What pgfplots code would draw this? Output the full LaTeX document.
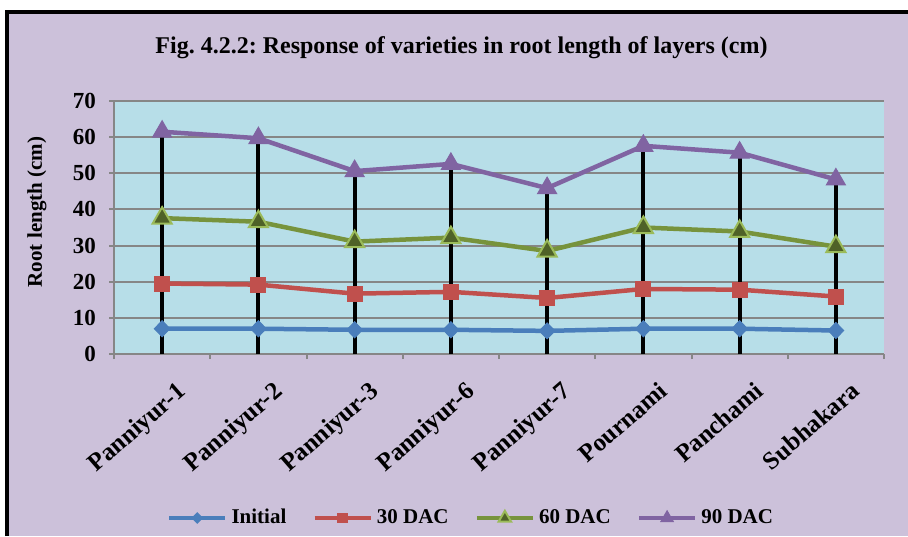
\documentclass[border=0pt]{standalone}
\usepackage{fontspec}
\setmainfont{Liberation Serif}
\usepackage{pgfplots}
\pgfplotsset{compat=1.18}
\definecolor{bgl}{HTML}{CCC1DA}
\definecolor{plotbg}{HTML}{B7DEE8}
\definecolor{gridc}{HTML}{868686}
\definecolor{cblue}{HTML}{4A7EBB}
\definecolor{cred}{HTML}{C0504D}
\definecolor{cgreen}{HTML}{77933C}
\definecolor{cgreenlt}{HTML}{9BBB59}
\definecolor{cgreendk}{HTML}{4F6228}
\definecolor{cpurple}{HTML}{8064A2}
\frenchspacing
\begin{document}
\begin{tikzpicture}
\path[use as bounding box, fill=white] (0,0) rectangle (454pt,-268pt);
\fill[bgl] (3pt,-5pt) rectangle (454pt,-268pt);
\draw[black, line width=2pt] (3.5pt,-268pt) -- (3.5pt,-6pt) -- (454pt,-6pt);
\node[font=\bfseries\fontsize{12}{14}\selectfont] at (230.75pt,-24pt) {Fig. 4.2.2: Response of varieties in root length of layers (cm)};
\node[rotate=90, font=\bfseries\fontsize{10.5}{12}\selectfont] at (18.5pt,-106pt) {Root length (cm)};
\begin{axis}[
  at={(57pt,-177pt)}, anchor=south west,
  scale only axis, width=385pt, height=126.5pt,
  axis background/.style={fill=plotbg},
  xmin=0.5, xmax=8.5, ymin=0, ymax=70,
  ytick={0,10,...,70},
  ymajorgrids, grid style={gridc, line width=1pt},
  axis x line*=bottom, axis y line*=left,
  axis line style={gridc, line width=1pt, -},
  tick align=outside, major tick length=2.5pt,
  tick style={gridc, line width=1pt},
  xtick={0.5,1.5,...,8.5}, xticklabels={},
  extra x ticks={1,2,3,4,5,6,7,8},
  extra x tick labels={Panniyur-1,Panniyur-2,Panniyur-3,Panniyur-6,Panniyur-7,Pournami,Panchami,Subhakara},
  extra x tick style={major tick length=0pt,
    tick label style={rotate=41, anchor=north east, yshift=-11pt, xshift=0pt, font=\bfseries\fontsize{12.5}{13}\selectfont}},
  yticklabel style={font=\bfseries\fontsize{11.5}{12}\selectfont, xshift=-3pt},
  /pgf/number format/assume math mode=true,
  legend columns=4,
  legend style={at={(0.465,-0.648)}, anchor=center, draw=none, fill=none,
    font=\bfseries\fontsize{10.5}{12}\selectfont,
    /tikz/every even column/.append style={column sep=11pt}},
  legend image code/.code={\draw[mark repeat=2, mark phase=2, every mark/.append style={scale=0.65}] plot coordinates {(0pt,0pt)(14pt,0pt)(28pt,0pt)};},
]
\addplot[cblue, line width=2.25pt, mark=diamond*, mark size=4pt, mark options={fill=cblue, draw=cblue, line width=0.5pt, xscale=1.3}]
  coordinates {(1,7.0)(2,7.0)(3,6.7)(4,6.7)(5,6.4)(6,7.0)(7,7.0)(8,6.5)};
\addlegendentry{Initial}
\addplot[cred, line width=2.25pt, mark=square*, mark size=3.75pt, mark options={fill=cred, draw=cred, line width=0.5pt}]
  coordinates {(1,19.5)(2,19.2)(3,16.7)(4,17.2)(5,15.5)(6,18.0)(7,17.8)(8,15.9)};
\addlegendentry{30 DAC}
\addplot[cgreen, line width=2.25pt, mark=triangle*, mark size=5.5pt, mark options={fill=cgreendk, draw=cgreenlt, line width=1pt}]
  coordinates {(1,37.6)(2,36.6)(3,31.1)(4,32.2)(5,28.5)(6,35.0)(7,33.9)(8,29.7)};
\addlegendentry{60 DAC}
\addplot[cpurple, line width=2.25pt, mark=triangle*, mark size=5.5pt, mark options={fill=cpurple, draw=cpurple, line width=0.5pt}]
  coordinates {(1,61.5)(2,59.7)(3,50.6)(4,52.6)(5,45.9)(6,57.6)(7,55.7)(8,48.3)};
\addlegendentry{90 DAC}
\addplot[ycomb, black, line width=2pt, forget plot]
  coordinates {(1,61.5)(2,59.7)(3,50.6)(4,52.6)(5,45.9)(6,57.6)(7,55.7)(8,48.3)};
\end{axis}
\end{tikzpicture}
\end{document}
